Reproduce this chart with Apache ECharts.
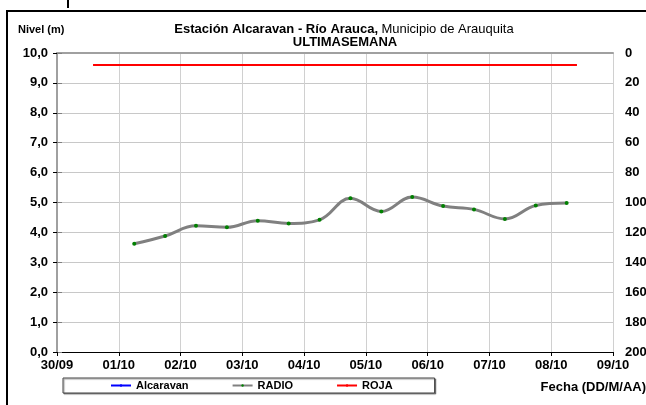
<!DOCTYPE html>
<html>
<head>
<meta charset="utf-8">
<script src="https://cdn.jsdelivr.net/npm/echarts@6/dist/echarts.min.js"></script>
<style>
html,body{margin:0;padding:0;background:#fff;}
#c{width:646px;height:405px;}
</style>
</head>
<body>
<div id="c"></div>
<script>
// ---- data ----
var startDate = '30/09 00:00';
var tickLabels = ['30/09','01/10','02/10','03/10','04/10','05/10','06/10','07/10','08/10','09/10'];
var radioTimes = ['01/10 06:00','01/10 18:00','02/10 06:00','02/10 18:00','03/10 06:00','03/10 18:00','04/10 06:00','04/10 18:00','05/10 06:00','05/10 18:00','06/10 06:00','06/10 18:00','07/10 06:00','07/10 18:00','08/10 06:00'];
var radioValues = [3.62,3.88,4.22,4.17,4.39,4.30,4.42,5.14,4.70,5.18,4.88,4.77,4.45,4.90,4.98];
var rojaTimes = ['30/09 14:00','08/10 10:00'];
var rojaValues = [9.6,9.6];
var alcaravanTimes = [];
var alcaravanValues = [];
var leftTicks = {min:0, max:10, interval:1};
var rightTicks = {min:0, max:200, interval:20};

function toDays(s){
  var p = s.split(' '); var d = p[0].split('/'); var t = p[1].split(':');
  return Date.UTC(2013, +d[1]-1, +d[0], +t[0], +t[1]);
}
var t0 = toDays(startDate);
function pairs(times, vals){
  return times.map(function(t,i){ return [(toDays(t)-t0)/86400000, vals[i]]; });
}

var FONT = '"Liberation Sans", Arial, sans-serif';
var chart = echarts.init(document.getElementById('c'), null, {renderer:'canvas'});
chart.setOption({
  animation:false,
  textStyle:{fontFamily:FONT},
  grid:{left:57, right:33, top:53, bottom:53, containLabel:false, outerBoundsMode:'none'},
  graphic:[
    {type:'rect', shape:{x:7, y:11, width:660, height:420}, style:{fill:'none', stroke:'#000', lineWidth:2}, z:0},
    {type:'rect', shape:{x:67, y:0, width:2, height:8}, style:{fill:'#000'}},
    {type:'text', x:18, y:30, style:{text:'Nivel (m)', font:'bold 11px '+FONT, fill:'#000', textVerticalAlign:'middle'}},
    {type:'text', x:344, y:29, style:{text:'{b|Estación Alcaravan - Río Arauca,} {n|Municipio de Arauquita}', textAlign:'center', textVerticalAlign:'middle',
      rich:{b:{font:'bold 13px '+FONT, fill:'#000'}, n:{font:'13px '+FONT, fill:'#000'}}}},
    {type:'text', x:345, y:42, style:{text:'ULTIMASEMANA', font:'bold 13px '+FONT, fill:'#000', textAlign:'center', textVerticalAlign:'middle'}},
    {type:'text', x:646, y:387, style:{text:'Fecha (DD/M/AA)', font:'bold 13px '+FONT, fill:'#000', textAlign:'right', textVerticalAlign:'middle'}}
  ],
  legend:{
    left:63, top:378, itemWidth:20, itemHeight:3, itemGap:43,
    padding:[2,42,2,47],
    borderColor:'#444', borderWidth:1, backgroundColor:'#fff',
    shadowColor:'rgba(0,0,0,0.4)', shadowOffsetX:1, shadowOffsetY:1, shadowBlur:1,
    textStyle:{fontFamily:FONT, fontWeight:'bold', fontSize:11, color:'#000'},
    data:['Alcaravan','RADIO','ROJA']
  },
  xAxis:[
    {type:'value', min:0, max:9, interval:1, position:'bottom',
     axisLine:{lineStyle:{color:'#000', width:1}},
     axisTick:{show:true, length:4, lineStyle:{color:'#000'}},
     axisLabel:{formatter:function(v){return tickLabels[v];}, fontWeight:'bold', fontSize:13, color:'#000', margin:7, fontFamily:FONT},
     splitLine:{show:true, lineStyle:{color:'#d0d0d0', width:1}}},
    {type:'value', min:0, max:9, interval:1, position:'top',
     axisLine:{show:true, onZero:false, lineStyle:{color:'#a0a0a0', width:2}},
     axisTick:{show:false}, axisLabel:{show:false}, splitLine:{show:false}}
  ],
  yAxis:[
    {type:'value', min:leftTicks.min, max:leftTicks.max, interval:leftTicks.interval, position:'left',
     axisLine:{show:true, lineStyle:{color:'#000', width:1}},
     axisTick:{show:true, length:4, lineStyle:{color:'#000'}},
     axisLabel:{formatter:function(v){return v.toFixed(1).replace('.',',');}, fontWeight:'bold', fontSize:13, color:'#000', margin:9, fontFamily:FONT},
     splitLine:{show:true, lineStyle:{color:'#c8c8c8', width:1}}},
    {type:'value', min:rightTicks.min, max:rightTicks.max, interval:rightTicks.interval, position:'right', inverse:true,
     axisLine:{show:true, lineStyle:{color:'#a0a0a0', width:2}},
     axisTick:{show:true, length:5, lineStyle:{color:'#808080'}},
     axisLabel:{fontWeight:'bold', fontSize:13, color:'#000', margin:12, fontFamily:FONT},
     splitLine:{show:false}}
  ],
  series:[
    {name:'Alcaravan', type:'line', data:pairs(alcaravanTimes, alcaravanValues), symbol:'none',
     lineStyle:{color:'#0000ff', width:3}, itemStyle:{color:'#0000ff'}},
    {name:'RADIO', type:'line', data:pairs(radioTimes, radioValues), smooth:0.4,
     symbol:'circle', symbolSize:4,
     lineStyle:{color:'#808080', width:3}, itemStyle:{color:'#008000'}, z:3},
    {name:'ROJA', type:'line', data:pairs(rojaTimes, rojaValues), symbol:'none',
     lineStyle:{color:'#ff0000', width:2}, itemStyle:{color:'#ff0000'}}
  ]
});
</script>
</body>
</html>
